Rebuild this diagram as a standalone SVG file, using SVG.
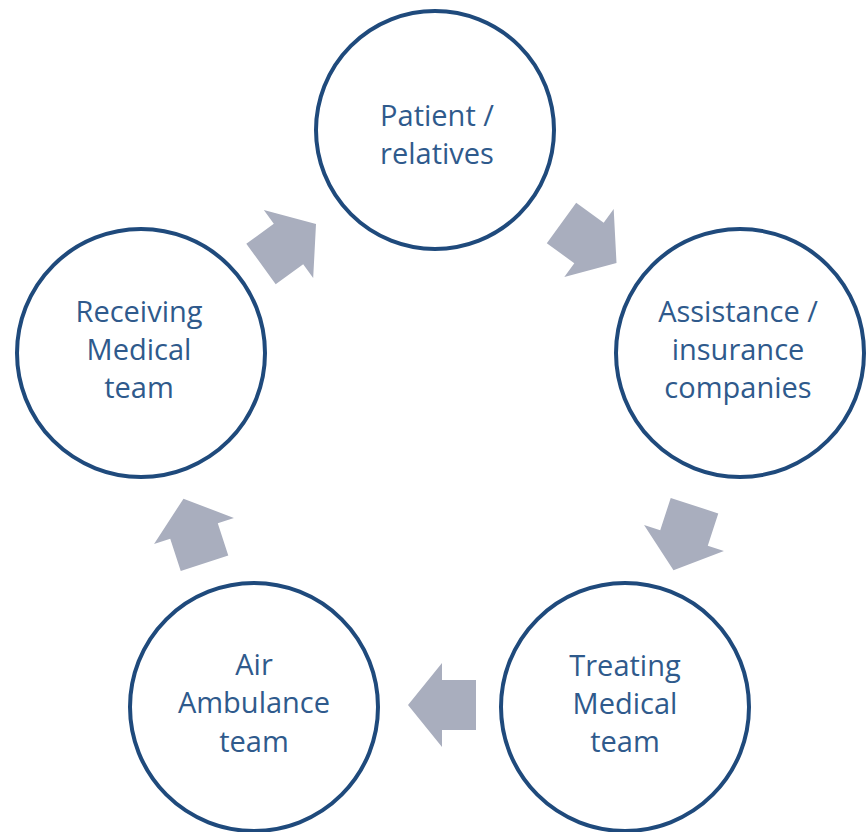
<svg xmlns="http://www.w3.org/2000/svg" width="866" height="832" viewBox="0 0 866 832">
  <defs>
    <style>
      .node { fill: #ffffff; stroke: #1f4a7c; stroke-width: 4; }
      .label { font-family: "Open Sans", "Noto Sans", "Liberation Sans", sans-serif; font-size: 29px; fill: #2f5a8c; text-anchor: middle; }
      .arrow { fill: #a9aebe; }
    </style>
    <polygon id="blockArrow" points="-34,-25 0,-25 0,-42 34,0 0,42 0,25 -34,25"/>
  </defs>
  <rect width="866" height="832" fill="#ffffff"/>
  <g id="connectors">
    <use href="#blockArrow" class="arrow" transform="translate(589,243) rotate(36)"/>
    <use href="#blockArrow" class="arrow" transform="translate(684,538) rotate(108)"/>
    <use href="#blockArrow" class="arrow" transform="translate(442,705) rotate(180)"/>
    <use href="#blockArrow" class="arrow" transform="translate(194,531) rotate(252)"/>
    <use href="#blockArrow" class="arrow" transform="translate(288.5,244) rotate(-36)"/>
  </g>
  <g id="patient">
    <circle class="node" cx="435" cy="130" r="119"/>
    <text class="label" x="437" y="126">Patient /</text>
    <text class="label" x="437" y="164">relatives</text>
  </g>
  <g id="assistance">
    <circle class="node" cx="740" cy="353" r="124"/>
    <text class="label" x="738" y="322">Assistance /</text>
    <text class="label" x="738" y="360">insurance</text>
    <text class="label" x="738" y="398">companies</text>
  </g>
  <g id="treating">
    <circle class="node" cx="625" cy="707" r="124"/>
    <text class="label" x="625" y="676">Treating</text>
    <text class="label" x="625" y="714">Medical</text>
    <text class="label" x="625" y="752">team</text>
  </g>
  <g id="air-ambulance">
    <circle class="node" cx="254" cy="707" r="124"/>
    <text class="label" x="254" y="675">Air</text>
    <text class="label" x="254" y="713">Ambulance</text>
    <text class="label" x="254" y="752">team</text>
  </g>
  <g id="receiving">
    <circle class="node" cx="141" cy="353" r="124"/>
    <text class="label" x="139" y="322">Receiving</text>
    <text class="label" x="139" y="360">Medical</text>
    <text class="label" x="139" y="398">team</text>
  </g>
</svg>
